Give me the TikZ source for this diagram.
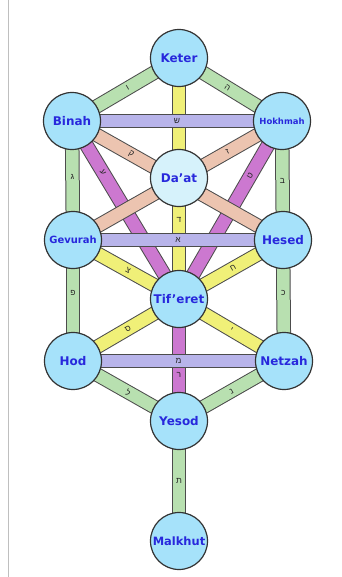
\documentclass[tikz,border=0pt]{standalone}
\usepackage{fontspec}
\setmainfont{DejaVu Sans}
\newfontfamily\hebfont[Script=Hebrew]{Liberation Sans}
\usetikzlibrary{backgrounds}
\definecolor{sefblue}{RGB}{166, 226, 250}
\definecolor{daatblue}{RGB}{214, 242, 251}
\definecolor{nameblue}{RGB}{40, 40, 220}
\definecolor{pgreen}{RGB}{184, 224, 176}
\definecolor{pyellow}{RGB}{240, 240, 120}
\definecolor{plavender}{RGB}{184, 180, 234}
\definecolor{pmagenta}{RGB}{204, 120, 208}
\definecolor{psalmon}{RGB}{236, 196, 176}
\tikzset{
  sefira/.style={circle, draw=black!80, line width=1.2bp, fill=sefblue, minimum size=57bp,
                 inner sep=0pt, text=nameblue, font=\bfseries\fontsize{#1}{#1}\selectfont},
  sefira/.default=12,
  band/.style={line width=1bp, draw=black!70, double=#1, double distance=12.5bp},
  letter/.style={inner sep=0pt, text=black!85, font=\hebfont\fontsize{8.5}{8.5}\selectfont},
}

\begin{document}
\begin{tikzpicture}[x=1bp, y=-1bp]
        \useasboundingbox (0,0) rectangle (341,577);
        \draw[black!25, line width=1bp] (8,0) -- (8,577);

        % Sefirot
        \node[sefira] (keter) at (179,58) {Keter};
        \node[sefira] (binah) at (72,121) {Binah};
        \node[sefira=8.5] (hokhmah) at (282,121) {Hokhmah};
        \node[sefira, fill=daatblue] (daat) at (179,178) {Da'at};
        \node[sefira=10] (gevurah) at (73,240) {Gevurah};
        \node[sefira] (hesed) at (283,240) {Hesed};
        \node[sefira] (tiferet) at (179,299) {Tif'eret};
        \node[sefira] (hod) at (73,361) {Hod};
        \node[sefira] (netzah) at (284,361) {Netzah};
        \node[sefira] (yesod) at (179,421) {Yesod};
        \node[sefira=11.5] (malkhut) at (179,541) {Malkhut};

        % Paths
        \begin{scope}[on background layer]
          \foreach \a/\b/\c/\p/\l in {binah/tiferet/pmagenta/.29/ע, hokhmah/tiferet/pmagenta/.31/ט,
              binah/hesed/psalmon/.28/ק, hokhmah/gevurah/psalmon/.26/ז,
              keter/binah/pgreen/.48/ו, keter/hokhmah/pgreen/.47/ה,
              hod/yesod/pgreen/.52/ל, netzah/yesod/pgreen/.5/נ,
              gevurah/tiferet/pyellow/.52/צ, hesed/tiferet/pyellow/.48/ח,
              tiferet/hod/pyellow/.48/ס, tiferet/netzah/pyellow/.5/י}
            \draw[band=\c] (\a.center) -- (\b.center) node[letter, sloped, pos=\p] {\l};
          \foreach \a/\b/\c/\p/\l in {binah/gevurah/pgreen/.47/ג, hokhmah/hesed/pgreen/.5/ב,
              gevurah/hod/pgreen/.44/פ, hesed/netzah/pgreen/.44/כ,
              yesod/malkhut/pgreen/.5/ת, tiferet/yesod/pmagenta/.62/ר,
              keter/tiferet/pyellow/.67/ד,
              binah/hokhmah/plavender/.5/ש, gevurah/hesed/plavender/.5/א,
              hod/netzah/plavender/.5/מ}
            \draw[band=\c] (\a.center) -- (\b.center) node[letter, pos=\p] {\l};
        \end{scope}
      \end{tikzpicture}
\end{document}
